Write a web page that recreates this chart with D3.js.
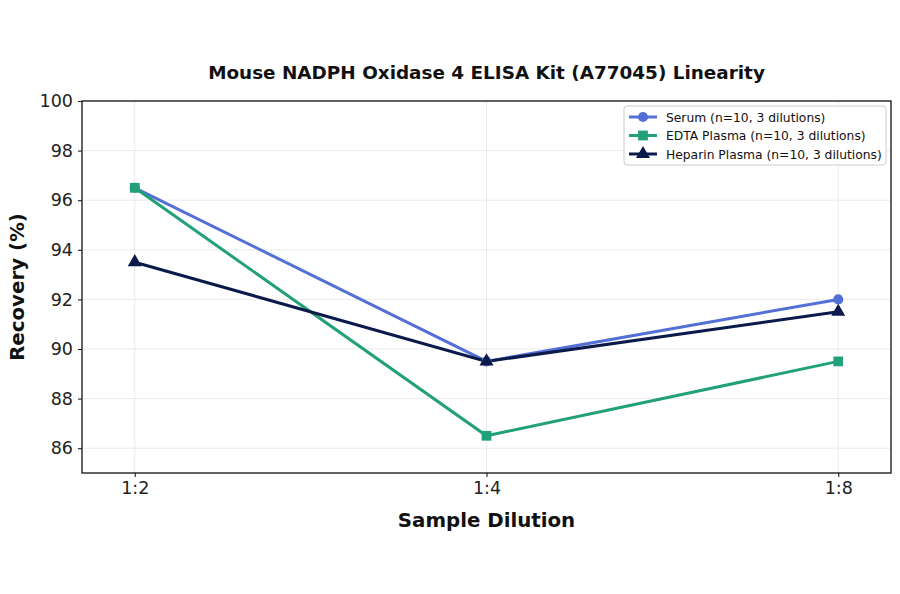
<!DOCTYPE html>
<html><head><meta charset="utf-8">
<script src="https://cdn.jsdelivr.net/npm/d3@7"></script>
<style>body{margin:0;background:#fff;font-family:"DejaVu Sans",sans-serif}</style>
</head><body><svg id="c" width="900" height="594"></svg>
<script>
const categories = ["1:2","1:4","1:8"];
const serum = [96.5, 89.5, 92.0];
const edta = [96.5, 86.5, 89.5];
const heparin = [93.5, 89.5, 91.5];
const yTicks = [86,88,90,92,94,96,98,100];
const seriesNames = ["Serum (n=10, 3 dilutions)","EDTA Plasma (n=10, 3 dilutions)","Heparin Plasma (n=10, 3 dilutions)"];
const colors = ["#5470d6","#21a07a","#0b1a4a"];
const shapes = [d3.symbolCircle, d3.symbolSquare, d3.symbolTriangle];

const svg = d3.select("#c");
const L=82, R=891, T=101, B=473;
const x = d3.scaleLinear().domain([-0.15, 2.15]).range([L,R]);
const y = d3.scaleLinear().domain([85,100]).range([B,T]);

// grid
svg.append("g").selectAll("line").data(yTicks).join("line")
  .attr("x1",L).attr("x2",R).attr("y1",d=>y(d)).attr("y2",d=>y(d))
  .attr("stroke","#e6e6e6").attr("stroke-width",0.8);
svg.append("g").selectAll("line").data(categories).join("line")
  .attr("x1",(d,i)=>x(i)).attr("x2",(d,i)=>x(i)).attr("y1",T).attr("y2",B)
  .attr("stroke","#e6e6e6").attr("stroke-width",0.8);

// axes
const yAxis = svg.append("g").attr("transform",`translate(${L},0)`)
  .call(d3.axisLeft(y).tickValues(yTicks).tickSize(4).tickPadding(5));
const xAxis = svg.append("g").attr("transform",`translate(0,${B})`)
  .call(d3.axisBottom(x).tickValues([0,1,2]).tickFormat(i=>categories[i]).tickSize(4).tickPadding(5));
[yAxis,xAxis].forEach(a=>{
  a.select(".domain").remove();
  a.selectAll("text").attr("font-size",17.5).attr("fill","#222").attr("font-family","DejaVu Sans");
  a.selectAll("line").attr("stroke","#222").attr("stroke-width",1.1);
});
svg.append("rect").attr("x",L).attr("y",T).attr("width",R-L).attr("height",B-T)
  .attr("fill","none").attr("stroke","#111").attr("stroke-width",1.3);

// lines
const data = [serum, edta, heparin];
const line = d3.line().x((d,i)=>x(i)).y(d=>y(d));
data.forEach((s,k)=>{
  svg.append("path").datum(s).attr("d",line).attr("fill","none")
    .attr("stroke",colors[k]).attr("stroke-width",3);
});
const msize = [80, 95, 85];
data.forEach((s,k)=>{
  svg.append("g").selectAll("path").data(s).join("path")
    .attr("transform",(d,i)=>`translate(${x(i)},${y(d)})`)
    .attr("d",d3.symbol().type(shapes[k]).size(msize[k])).attr("fill",colors[k]);
});

// title and labels
svg.append("text").attr("x",(L+R)/2).attr("y",79).attr("text-anchor","middle")
  .attr("font-size",18.4).attr("font-weight","bold").attr("fill","#111")
  .text("Mouse NADPH Oxidase 4 ELISA Kit (A77045) Linearity");
svg.append("text").attr("x",(L+R)/2).attr("y",527).attr("text-anchor","middle")
  .attr("font-size",19.8).attr("font-weight","bold").attr("fill","#111").text("Sample Dilution");
svg.append("text").attr("transform",`translate(24,${(T+B)/2}) rotate(-90)`).attr("text-anchor","middle")
  .attr("font-size",19.8).attr("font-weight","bold").attr("fill","#111").text("Recovery (%)");

// legend
const lg = svg.append("g").attr("transform","translate(624,106)");
lg.append("rect").attr("width",262).attr("height",59).attr("rx",3).attr("fill","#fff")
  .attr("fill-opacity",0.85).attr("stroke","#ccc");
seriesNames.forEach((n,k)=>{
  const yy = 11 + k*18.5;
  lg.append("line").attr("x1",5).attr("x2",33).attr("y1",yy).attr("y2",yy)
    .attr("stroke",colors[k]).attr("stroke-width",3);
  lg.append("path").attr("transform",`translate(19,${yy})`)
    .attr("d",d3.symbol().type(shapes[k]).size(msize[k])).attr("fill",colors[k]);
  lg.append("text").attr("x",42).attr("y",yy+4.5).attr("font-size",12.3).attr("fill","#111").text(n);
});
</script></body></html>
